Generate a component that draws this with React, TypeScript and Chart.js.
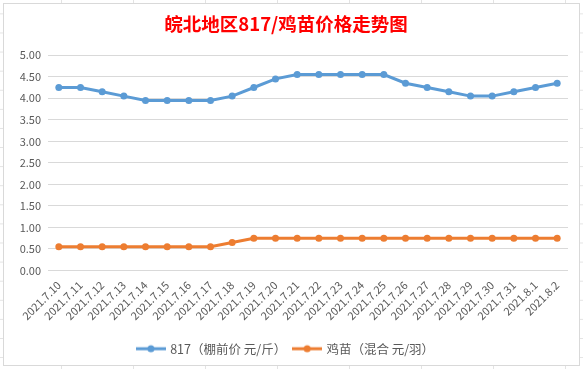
import React, { useEffect, useRef } from 'react';
import { Chart, registerables } from 'chart.js';

Chart.register(...registerables);

const categories = [
  '2021.7.10', '2021.7.11', '2021.7.12', '2021.7.13', '2021.7.14', '2021.7.15',
  '2021.7.16', '2021.7.17', '2021.7.18', '2021.7.19', '2021.7.20', '2021.7.21',
  '2021.7.22', '2021.7.23', '2021.7.24', '2021.7.25', '2021.7.26', '2021.7.27',
  '2021.7.28', '2021.7.29', '2021.7.30', '2021.7.31', '2021.8.1', '2021.8.2',
];

const price817 = [
  4.25, 4.25, 4.15, 4.05, 3.95, 3.95, 3.95, 3.95, 4.05, 4.25, 4.45, 4.55,
  4.55, 4.55, 4.55, 4.55, 4.35, 4.25, 4.15, 4.05, 4.05, 4.15, 4.25, 4.35,
];

const chickPrice = [
  0.55, 0.55, 0.55, 0.55, 0.55, 0.55, 0.55, 0.55, 0.65, 0.75, 0.75, 0.75,
  0.75, 0.75, 0.75, 0.75, 0.75, 0.75, 0.75, 0.75, 0.75, 0.75, 0.75, 0.75,
];

const seriesNames = ['817（棚前价 元/斤）', '鸡苗（混合 元/羽）'];
const titleText = '皖北地区817/鸡苗价格走势图';

const BLUE = '#5B9BD5';
const ORANGE = '#ED7D31';
const TEXT = '#595959';
const GRID = '#d9d9d9';

function legendSwatch(color: string): HTMLCanvasElement {
  const c = document.createElement('canvas');
  c.width = 30;
  c.height = 10;
  const ctx = c.getContext('2d')!;
  ctx.strokeStyle = color;
  ctx.lineWidth = 3;
  ctx.beginPath();
  ctx.moveTo(0, 5);
  ctx.lineTo(30, 5);
  ctx.stroke();
  ctx.fillStyle = color;
  ctx.beginPath();
  ctx.arc(15, 5, 3.5, 0, Math.PI * 2);
  ctx.fill();
  return c;
}

export default function App() {
  const ref = useRef<HTMLCanvasElement | null>(null);

  useEffect(() => {
    if (!ref.current) return;
    const swatches = [legendSwatch(BLUE), legendSwatch(ORANGE)];
    const chart = new Chart(ref.current, {
      type: 'line',
      data: {
        labels: categories,
        datasets: [
          {
            label: seriesNames[0],
            data: price817,
            borderColor: BLUE,
            backgroundColor: BLUE,
            borderWidth: 3,
            pointRadius: 3.5,
            pointHoverRadius: 3.5,
            pointBorderWidth: 0,
            tension: 0,
          },
          {
            label: seriesNames[1],
            data: chickPrice,
            borderColor: ORANGE,
            backgroundColor: ORANGE,
            borderWidth: 3,
            pointRadius: 3.5,
            pointHoverRadius: 3.5,
            pointBorderWidth: 0,
            tension: 0,
          },
        ],
      },
      options: {
        responsive: false,
        animation: false,
        devicePixelRatio: 1,
        layout: { padding: { left: 0, right: 11, top: 0, bottom: 0 } },
        plugins: {
          tooltip: { enabled: false },
          title: {
            display: true,
            text: titleText,
            color: '#FF0000',
            font: { family: '"Noto Sans CJK SC"', size: 18.5, weight: 'bold', lineHeight: 1.2 },
            padding: { top: 9, bottom: 20 },
          },
          legend: {
            display: true,
            position: 'bottom',
            labels: {
              color: TEXT,
              font: { family: '"Noto Sans CJK SC"', size: 12.5 },
              usePointStyle: true,
              pointStyleWidth: 26,
              padding: 8,
              generateLabels: (ch: any) => {
                const items = Chart.defaults.plugins.legend.labels.generateLabels(ch);
                return items.map((it: any, i: number) => ({ ...it, pointStyle: swatches[i] }));
              },
            },
          },
        },
        scales: {
          x: {
            offset: true,
            grid: { display: false, drawTicks: false },
            border: { display: false },
            ticks: {
              color: TEXT,
              font: { family: '"Noto Sans CJK SC"', size: 11 },
              minRotation: 45,
              maxRotation: 45,
              autoSkip: false,
              padding: 8,
            },
            afterFit: (s: any) => {
              s.height = 64;
            },
          },
          y: {
            min: 0,
            max: 5,
            grid: { color: GRID, lineWidth: 1, drawTicks: false },
            border: { display: false },
            ticks: {
              stepSize: 0.5,
              color: TEXT,
              font: { family: '"Noto Sans CJK SC"', size: 11 },
              padding: 7,
              callback: (v: any) => Number(v).toFixed(2),
            },
            afterFit: (s: any) => {
              s.width = 44;
            },
          },
        },
      },
    });
    return () => chart.destroy();
  }, []);

  return (
    <div
      style={{
        position: 'fixed',
        left: 0,
        top: 0,
        width: 583,
        height: 369,
        background: '#ffffff',
        backgroundImage:
          'linear-gradient(to right, #e3e3e3 1px, transparent 1px), linear-gradient(to bottom, #e3e3e3 1px, transparent 1px)',
        backgroundSize: '72px 19.1px',
        backgroundPosition: '61px 13.4px',
        overflow: 'hidden',
      }}
    >
      <div
        style={{
          position: 'absolute',
          left: 3,
          top: 3,
          width: 575,
          height: 361,
          border: '1px solid #d9d9d9',
          background: '#ffffff',
        }}
      >
        <canvas ref={ref} width={575} height={361} style={{ display: 'block', width: 575, height: 361 }} />
      </div>
    </div>
  );
}
